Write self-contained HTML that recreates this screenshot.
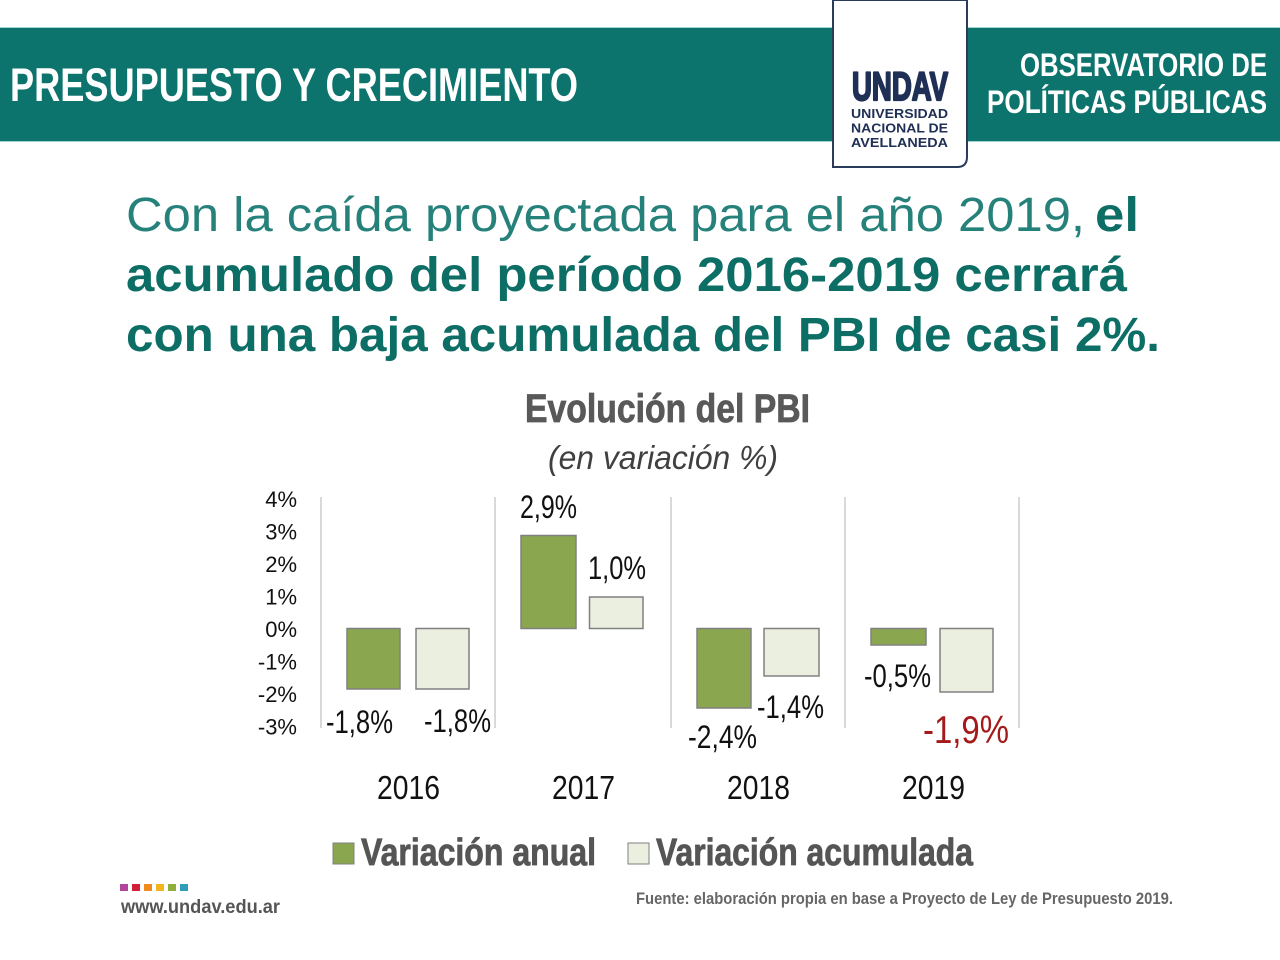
<!DOCTYPE html>
<html>
<head>
<meta charset="utf-8">
<style>
  html, body { margin: 0; padding: 0; background: #ffffff; }
  svg { display: block; }
  .c { font-family: "Liberation Sans Narrow", "Liberation Sans", sans-serif; }
  .s { font-family: "Liberation Sans", sans-serif; }
</style>
</head>
<body>
<svg width="1280" height="960" viewBox="0 0 1280 960" xmlns="http://www.w3.org/2000/svg">
  <rect x="0" y="0" width="1280" height="960" fill="#ffffff"/>

  <!-- Header band -->
  <rect x="0" y="27" width="1280" height="115" fill="#9fd6d2"/>
  <rect x="0" y="28" width="1280" height="113" fill="#0c736d"/>
  <text class="c" x="10" y="101" font-size="47" font-weight="bold" fill="#ffffff" textLength="568" lengthAdjust="spacingAndGlyphs">PRESUPUESTO Y CRECIMIENTO</text>
  <text class="c" x="1020" y="76" font-size="32" font-weight="bold" fill="#ffffff" textLength="247" lengthAdjust="spacingAndGlyphs">OBSERVATORIO DE</text>
  <text class="c" x="987" y="113" font-size="32" font-weight="bold" fill="#ffffff" textLength="280" lengthAdjust="spacingAndGlyphs">POLÍTICAS PÚBLICAS</text>

  <!-- Logo box -->
  <path d="M833,0 V167 H957 Q967,167 967,157 V0 Z" fill="#ffffff" stroke="#2b3b5a" stroke-width="2"/>
  <text class="s" x="852" y="100" font-size="40" font-weight="bold" fill="#1f2f55" stroke="#1f2f55" stroke-width="2.2" stroke-linejoin="round" textLength="96" lengthAdjust="spacingAndGlyphs">UNDAV</text>
  <text class="s" x="851" y="118" font-size="12.5" font-weight="bold" fill="#1f2f55" textLength="97" lengthAdjust="spacingAndGlyphs">UNIVERSIDAD</text>
  <text class="s" x="851" y="132.5" font-size="12.5" font-weight="bold" fill="#1f2f55" textLength="97" lengthAdjust="spacingAndGlyphs">NACIONAL DE</text>
  <text class="s" x="851" y="147" font-size="12.5" font-weight="bold" fill="#1f2f55" textLength="97" lengthAdjust="spacingAndGlyphs">AVELLANEDA</text>

  <!-- Headline -->
  <text class="s" x="126" y="231" font-size="48" fill="#25817a" textLength="959" lengthAdjust="spacingAndGlyphs">Con la caída proyectada para el año 2019,</text>
  <text class="s" x="1095" y="231" font-size="48" font-weight="bold" fill="#0d6e66" textLength="44" lengthAdjust="spacingAndGlyphs">el</text>
  <text class="s" x="126" y="291" font-size="48" font-weight="bold" fill="#0d6e66" textLength="1001" lengthAdjust="spacingAndGlyphs">acumulado del período 2016-2019 cerrará</text>
  <text class="s" x="126" y="351" font-size="48" font-weight="bold" fill="#0d6e66" textLength="1034" lengthAdjust="spacingAndGlyphs">con una baja acumulada del PBI de casi 2%.</text>

  <!-- Chart title -->
  <text class="c" x="525" y="422" font-size="40" font-weight="bold" fill="#595959" stroke="#595959" stroke-width="0.8" textLength="285" lengthAdjust="spacingAndGlyphs">Evolución del PBI</text>
  <text class="c" x="548" y="469" font-size="33" font-style="italic" fill="#404040" textLength="230" lengthAdjust="spacingAndGlyphs">(en variación %)</text>

  <!-- Grid lines -->
  <g stroke="#d9d9d9" stroke-width="2">
    <line x1="321" y1="497" x2="321" y2="728"/>
    <line x1="495" y1="497" x2="495" y2="728"/>
    <line x1="671" y1="497" x2="671" y2="728"/>
    <line x1="845" y1="497" x2="845" y2="728"/>
    <line x1="1019" y1="497" x2="1019" y2="728"/>
  </g>

  <!-- Y axis labels -->
  <g class="c" font-size="22" fill="#111111" text-anchor="end">
    <text x="297" y="507">4%</text>
    <text x="297" y="539.5">3%</text>
    <text x="297" y="572">2%</text>
    <text x="297" y="604.5">1%</text>
    <text x="297" y="637">0%</text>
    <text x="297" y="669.5">-1%</text>
    <text x="297" y="702">-2%</text>
    <text x="297" y="734.5">-3%</text>
  </g>

  <!-- Bars -->
  <g stroke="#808080" stroke-width="1.5">
    <rect x="347" y="628.5" width="53" height="60.5" fill="#8aa64f"/>
    <rect x="416" y="628.5" width="53" height="60.5" fill="#ebefe0"/>
    <rect x="521" y="535.5" width="55" height="93" fill="#8aa64f"/>
    <rect x="589.5" y="597" width="53.5" height="31.5" fill="#ebefe0"/>
    <rect x="697" y="628.5" width="54" height="79.5" fill="#8aa64f"/>
    <rect x="764" y="628.5" width="55" height="47.5" fill="#ebefe0"/>
    <rect x="871" y="628.5" width="55" height="16.5" fill="#8aa64f"/>
    <rect x="940" y="628.5" width="53" height="63.5" fill="#ebefe0"/>
  </g>

  <!-- Data labels -->
  <g class="c" font-size="32" fill="#111111">
    <text x="326" y="733" textLength="67" lengthAdjust="spacingAndGlyphs">-1,8%</text>
    <text x="424" y="732" textLength="67" lengthAdjust="spacingAndGlyphs">-1,8%</text>
    <text x="520" y="518" textLength="57" lengthAdjust="spacingAndGlyphs">2,9%</text>
    <text x="588" y="579" textLength="58" lengthAdjust="spacingAndGlyphs">1,0%</text>
    <text x="688" y="748" textLength="69" lengthAdjust="spacingAndGlyphs">-2,4%</text>
    <text x="757" y="718" textLength="67" lengthAdjust="spacingAndGlyphs">-1,4%</text>
    <text x="864" y="687" textLength="67" lengthAdjust="spacingAndGlyphs">-0,5%</text>
  </g>
  <text class="c" x="923" y="743" font-size="39" fill="#a41a1a" textLength="86" lengthAdjust="spacingAndGlyphs">-1,9%</text>

  <!-- Year labels -->
  <g class="c" font-size="33" fill="#111111">
    <text x="377" y="799" textLength="63" lengthAdjust="spacingAndGlyphs">2016</text>
    <text x="552" y="799" textLength="63" lengthAdjust="spacingAndGlyphs">2017</text>
    <text x="727" y="799" textLength="63" lengthAdjust="spacingAndGlyphs">2018</text>
    <text x="902" y="799" textLength="63" lengthAdjust="spacingAndGlyphs">2019</text>
  </g>

  <!-- Legend -->
  <rect x="333" y="843" width="21" height="21" fill="#8aa64f" stroke="#808080" stroke-width="1"/>
  <text class="c" x="361" y="865" font-size="38" font-weight="bold" fill="#555555" stroke="#555555" stroke-width="0.8" textLength="235" lengthAdjust="spacingAndGlyphs">Variación anual</text>
  <rect x="628" y="843" width="21" height="21" fill="#ebefe0" stroke="#808080" stroke-width="1"/>
  <text class="c" x="656" y="865" font-size="38" font-weight="bold" fill="#555555" stroke="#555555" stroke-width="0.8" textLength="317" lengthAdjust="spacingAndGlyphs">Variación acumulada</text>

  <!-- Footer squares -->
  <rect x="120" y="884" width="8" height="7" fill="#b0459b"/>
  <rect x="132" y="884" width="8" height="7" fill="#d31f3a"/>
  <rect x="144" y="884" width="8" height="7" fill="#f08a1d"/>
  <rect x="156" y="884" width="8" height="7" fill="#f2b51b"/>
  <rect x="168" y="884" width="8" height="7" fill="#8fae3c"/>
  <rect x="180" y="884" width="8" height="7" fill="#2f9db8"/>
  <text class="s" x="121" y="913" font-size="19" font-weight="bold" fill="#555555" textLength="159" lengthAdjust="spacingAndGlyphs">www.undav.edu.ar</text>

  <!-- Source -->
  <text class="c" x="636" y="904" font-size="17" font-weight="bold" fill="#666666" textLength="537" lengthAdjust="spacingAndGlyphs">Fuente: elaboración propia en base a Proyecto de Ley de Presupuesto 2019.</text>
</svg>
</body>
</html>
